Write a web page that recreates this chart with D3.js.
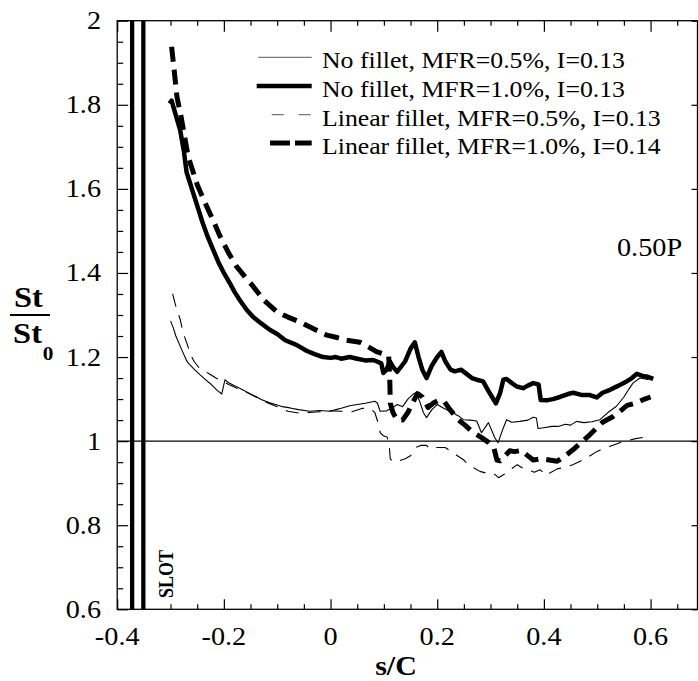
<!DOCTYPE html>
<html><head><meta charset="utf-8">
<script src="https://cdn.jsdelivr.net/npm/d3@7"></script>
<style>body{margin:0;background:#fff}svg{display:block}</style>
</head><body>
<svg id="c" width="698" height="681"></svg>
<script>
// ---------- data ----------
const xTicks = [-0.4, -0.2, 0, 0.2, 0.4, 0.6];
const xTickLabels = ["-0.4", "-0.2", "0", "0.2", "0.4", "0.6"];
const yTicks = [0.6, 0.8, 1, 1.2, 1.4, 1.6, 1.8, 2];
const yTickLabels = ["0.6", "0.8", "1", "1.2", "1.4", "1.6", "1.8", "2"];
const slotEdges = [-0.372, -0.351];
const refLevel = 1;
const seriesNames = [
  "No fillet, MFR=0.5%, I=0.13",
  "No fillet, MFR=1.0%, I=0.13",
  "Linear fillet, MFR=0.5%, I=0.13",
  "Linear fillet, MFR=1.0%, I=0.14"
];
const caseLabel = "0.50P";

const noFillet05 = [
  [-0.300,1.286],[-0.295,1.270],[-0.290,1.250],[-0.280,1.220],[-0.270,1.192],[-0.267,1.186],
  [-0.255,1.170],[-0.245,1.158],[-0.235,1.147],[-0.223,1.134],[-0.212,1.120],[-0.204,1.112],
  [-0.198,1.146],[-0.190,1.138],[-0.180,1.132],[-0.165,1.122],[-0.151,1.113],[-0.140,1.106],
  [-0.130,1.099],[-0.114,1.091],[-0.100,1.086],[-0.090,1.082],[-0.076,1.079],[-0.060,1.075],
  [-0.039,1.071],[-0.020,1.073],[-0.001,1.071],[0.010,1.075],[0.020,1.078],[0.036,1.084],
  [0.050,1.087],[0.065,1.090],[0.083,1.095],[0.088,1.090],[0.093,1.071],[0.105,1.072],
  [0.115,1.078],[0.125,1.087],[0.135,1.082],[0.145,1.100],[0.155,1.112],[0.160,1.115],
  [0.167,1.095],[0.174,1.068],[0.180,1.056],[0.190,1.075],[0.200,1.087],[0.212,1.078],
  [0.224,1.071],[0.240,1.060],[0.249,1.051],[0.262,1.050],[0.274,1.048],[0.283,1.020],
  [0.296,1.044],[0.308,1.008],[0.314,0.996],[0.322,1.025],[0.330,1.051],
  [0.340,1.045],[0.355,1.047],[0.370,1.050],[0.380,1.057],[0.386,1.055],[0.389,1.030],
  [0.400,1.032],[0.415,1.035],[0.427,1.035],[0.440,1.040],[0.450,1.038],[0.461,1.047],
  [0.475,1.044],[0.490,1.046],[0.505,1.051],[0.520,1.068],[0.536,1.083],[0.550,1.105],
  [0.560,1.125],[0.567,1.138],[0.580,1.150],[0.590,1.148],[0.596,1.146]
];

const noFillet10 = [
  [-0.302,1.803],[-0.298,1.810],[-0.290,1.775],[-0.282,1.740],[-0.275,1.690],[-0.270,1.640],
  [-0.260,1.600],[-0.250,1.560],[-0.240,1.520],[-0.230,1.485],[-0.220,1.455],[-0.210,1.425],
  [-0.200,1.400],[-0.189,1.376],[-0.180,1.355],[-0.170,1.335],[-0.157,1.312],[-0.145,1.295],
  [-0.130,1.280],[-0.114,1.265],[-0.100,1.255],[-0.085,1.240],[-0.064,1.229],[-0.045,1.215],
  [-0.030,1.207],[-0.014,1.200],[0.000,1.198],[0.010,1.200],[0.020,1.196],[0.036,1.200],
  [0.050,1.196],[0.065,1.192],[0.080,1.193],[0.086,1.190],[0.095,1.185],[0.099,1.162],
  [0.105,1.170],[0.111,1.190],[0.118,1.175],[0.125,1.165],[0.140,1.190],[0.150,1.220],
  [0.158,1.235],[0.165,1.200],[0.172,1.170],[0.180,1.150],[0.190,1.180],[0.200,1.200],
  [0.208,1.212],[0.215,1.190],[0.225,1.170],[0.233,1.166],[0.245,1.170],[0.255,1.160],
  [0.265,1.150],[0.274,1.146],[0.286,1.142],[0.298,1.115],[0.310,1.090],[0.318,1.115],
  [0.324,1.146],[0.330,1.148],[0.340,1.138],[0.349,1.130],[0.361,1.126],[0.370,1.132],
  [0.380,1.138],[0.390,1.135],[0.394,1.098],[0.405,1.097],[0.417,1.100],[0.430,1.105],
  [0.445,1.112],[0.455,1.115],[0.470,1.110],[0.485,1.110],[0.499,1.104],[0.510,1.115],
  [0.524,1.122],[0.540,1.132],[0.555,1.142],[0.565,1.150],[0.574,1.160],[0.585,1.155],
  [0.595,1.153],[0.605,1.148]
];

const linearFillet05 = [
  [-0.296,1.350],[-0.292,1.330],[-0.288,1.312],[-0.282,1.290],[-0.277,1.260],[-0.270,1.235],
  [-0.262,1.205],[-0.256,1.190],[-0.245,1.172],[-0.230,1.162],[-0.215,1.150],[-0.204,1.143],
  [-0.190,1.134],[-0.175,1.126],[-0.160,1.118],[-0.140,1.105],[-0.120,1.092],[-0.100,1.082],
  [-0.080,1.071],[-0.060,1.067],[-0.040,1.068],[-0.020,1.070],[0.000,1.072],[0.020,1.071],
  [0.040,1.070],[0.060,1.078],[0.075,1.077],[0.083,1.068],[0.090,1.040],[0.093,1.020],
  [0.100,1.012],[0.106,1.010],[0.110,0.990],[0.112,0.958],[0.118,0.950],[0.125,0.952],
  [0.140,0.958],[0.150,0.965],[0.160,0.985],[0.170,0.990],[0.180,0.990],[0.186,0.982],
  [0.200,0.985],[0.215,0.985],[0.225,0.976],[0.237,0.966],[0.250,0.955],[0.258,0.944],
  [0.268,0.937],[0.280,0.928],[0.292,0.924],[0.305,0.924],[0.315,0.913],[0.327,0.922],
  [0.340,0.935],[0.350,0.944],[0.360,0.936],[0.370,0.932],[0.382,0.926],[0.393,0.932],
  [0.405,0.918],[0.412,0.925],[0.425,0.934],[0.440,0.938],[0.454,0.944],[0.468,0.952],
  [0.480,0.960],[0.499,0.975],[0.512,0.983],[0.523,0.987],[0.546,0.998],[0.560,1.002],
  [0.572,1.006],[0.593,1.010]
];

const linearFillet10 = [
  [-0.298,1.938],[-0.293,1.880],[-0.288,1.819],[-0.280,1.770],[-0.267,1.677],[-0.250,1.610],
  [-0.235,1.566],[-0.220,1.525],[-0.207,1.487],[-0.190,1.445],[-0.176,1.415],[-0.160,1.390],
  [-0.145,1.368],[-0.125,1.335],[-0.101,1.308],[-0.080,1.295],[-0.057,1.283],[-0.030,1.266],
  [-0.007,1.252],[0.010,1.247],[0.030,1.240],[0.055,1.235],[0.070,1.225],[0.086,1.213],
  [0.100,1.207],[0.109,1.202],[0.111,1.150],[0.112,1.090],[0.117,1.068],[0.125,1.050],
  [0.135,1.050],[0.145,1.068],[0.155,1.094],[0.163,1.113],[0.172,1.105],[0.183,1.080],
  [0.192,1.090],[0.201,1.096],[0.212,1.096],[0.224,1.075],[0.239,1.051],[0.252,1.038],
  [0.265,1.023],[0.275,1.015],[0.284,1.008],[0.296,0.997],[0.306,0.985],[0.312,0.955],
  [0.318,0.953],[0.327,0.965],[0.336,0.977],[0.345,0.975],[0.358,0.978],[0.370,0.965],
  [0.380,0.955],[0.395,0.958],[0.410,0.955],[0.425,0.952],[0.443,0.968],[0.455,0.980],
  [0.468,0.995],[0.486,1.015],[0.498,1.030],[0.510,1.045],[0.529,1.058],[0.542,1.070],
  [0.556,1.085],[0.571,1.090],[0.585,1.098],[0.600,1.105]
];

// ---------- drawing ----------
const svg = d3.select("#c");
const L = 117.2, R = 697.5, T = 20.7, B = 609.3;
const x = d3.scaleLinear().domain([-0.4, 0.688]).range([L, R]);
const y = d3.scaleLinear().domain([0.6, 2]).range([B, T]);
const serif = "'Liberation Serif','Times New Roman',serif";
const SX = 1.13;

// reference line at 1
svg.append("line").attr("x1", L).attr("x2", R)
  .attr("y1", y(refLevel)).attr("y2", y(refLevel))
  .attr("stroke", "#000").attr("stroke-width", 1.3);

// slot lines
svg.selectAll("line.slot").data(slotEdges).enter().append("line")
  .attr("class", "slot")
  .attr("x1", d => x(d)).attr("x2", d => x(d))
  .attr("y1", T).attr("y2", B)
  .attr("stroke", "#000").attr("stroke-width", 4.3);

// ticks
const xMinor = d3.range(0, 22).map(i => -0.4 + i * 0.05).filter((v, i) => i % 4 !== 0);
const yMinor = d3.range(0, 29).map(i => 0.6 + i * 0.05).filter((v, i) => i % 4 !== 0);
function tickAxis(axis, tr) {
  const g = svg.append("g").attr("transform", tr).call(axis);
  g.select(".domain").remove();
  g.selectAll("line").attr("stroke", "#000").attr("stroke-width", 1.2);
  g.selectAll("text").remove();
}
tickAxis(d3.axisBottom(x).tickValues(xTicks).tickSize(-10).tickFormat(""), `translate(0,${B})`);
tickAxis(d3.axisBottom(x).tickValues(xMinor).tickSize(-5).tickFormat(""), `translate(0,${B})`);
tickAxis(d3.axisTop(x).tickValues(xTicks).tickSize(-11).tickFormat(""), `translate(0,${T})`);
tickAxis(d3.axisTop(x).tickValues(xMinor).tickSize(-5).tickFormat(""), `translate(0,${T})`);
tickAxis(d3.axisLeft(y).tickValues(yTicks).tickSize(-11).tickFormat(""), `translate(${L},0)`);
tickAxis(d3.axisLeft(y).tickValues(yMinor).tickSize(-6).tickFormat(""), `translate(${L},0)`);
tickAxis(d3.axisRight(y).tickValues(yTicks).tickSize(-6).tickFormat(""), `translate(${R},0)`);

// curves
const line = d3.line().x(d => x(d[0])).y(d => y(d[1]));
const styles = [
  {data: noFillet05, w: 1.1, dash: null},
  {data: noFillet10, w: 4.5, dash: null},
  {data: linearFillet05, w: 1.1, dash: "13,9"},
  {data: linearFillet10, w: 5, dash: "15,8"}
];
styles.forEach(s => {
  svg.append("path").attr("d", line(s.data))
    .attr("fill", "none").attr("stroke", "#000")
    .attr("stroke-width", s.w)
    .attr("stroke-linejoin", "round")
    .attr("stroke-dasharray", s.dash);
});

// frame
svg.append("rect").attr("x", L).attr("y", T).attr("width", R - L).attr("height", B - T)
  .attr("fill", "none").attr("stroke", "#000").attr("stroke-width", 1.3);

// text helper
function txt(str, tx, ty, size, anchor, weight, sx, extra) {
  return svg.append("text")
    .attr("transform", `translate(${tx},${ty}) scale(${sx},1)` + (extra || ""))
    .attr("text-anchor", anchor).attr("font-family", serif)
    .attr("font-size", size).attr("font-weight", weight || "normal")
    .attr("fill", "#000").text(str);
}

// tick labels
yTicks.forEach((v, i) => txt(yTickLabels[i], 101, y(v) + 8.5, 25, "end", "normal", SX));
xTicks.forEach((v, i) => txt(xTickLabels[i], x(v), 645, 25, "middle", "normal", SX));

// axis titles
txt("s/C", 396, 675, 27, "middle", "bold", 1.11);
txt("St", 28.3, 306.5, 29, "middle", "bold", 1.12);
svg.append("line").attr("x1", 10).attr("x2", 50).attr("y1", 315).attr("y2", 315)
  .attr("stroke", "#000").attr("stroke-width", 2);
txt("St", 27.5, 343, 29, "middle", "bold", 1.12);
txt("0", 42.7, 360, 19, "start", "bold", 1.12);

// SLOT label
svg.append("text")
  .attr("transform", `translate(173,598) scale(1.12,1) rotate(-90)`)
  .attr("font-family", serif).attr("font-size", 18).attr("font-weight", "bold")
  .attr("text-anchor", "start").text("SLOT");

// case label
txt(caseLabel, 617, 256, 25, "start", "normal", SX);

// legend
const legY = [68.3, 97, 125.6, 154];
const legStyle = [
  {w: 1.2, dash: null, c: "#777", x1: 258.3},
  {w: 4.3, dash: null, c: "#000", x1: 256.7},
  {w: 1.2, dash: "12,15", c: "#777", x1: 271.7},
  {w: 5, dash: "20,5", c: "#000", x1: 270}
];
seriesNames.forEach((n, i) => {
  const ly = legY[i] - 11;
  svg.append("line").attr("x1", legStyle[i].x1).attr("x2", 311.7)
    .attr("y1", ly).attr("y2", ly)
    .attr("stroke", legStyle[i].c).attr("stroke-width", legStyle[i].w)
    .attr("stroke-dasharray", legStyle[i].dash);
  txt(n, 322, legY[i], 22.7, "start", "normal", 1.135);
});
</script>
</body></html>
